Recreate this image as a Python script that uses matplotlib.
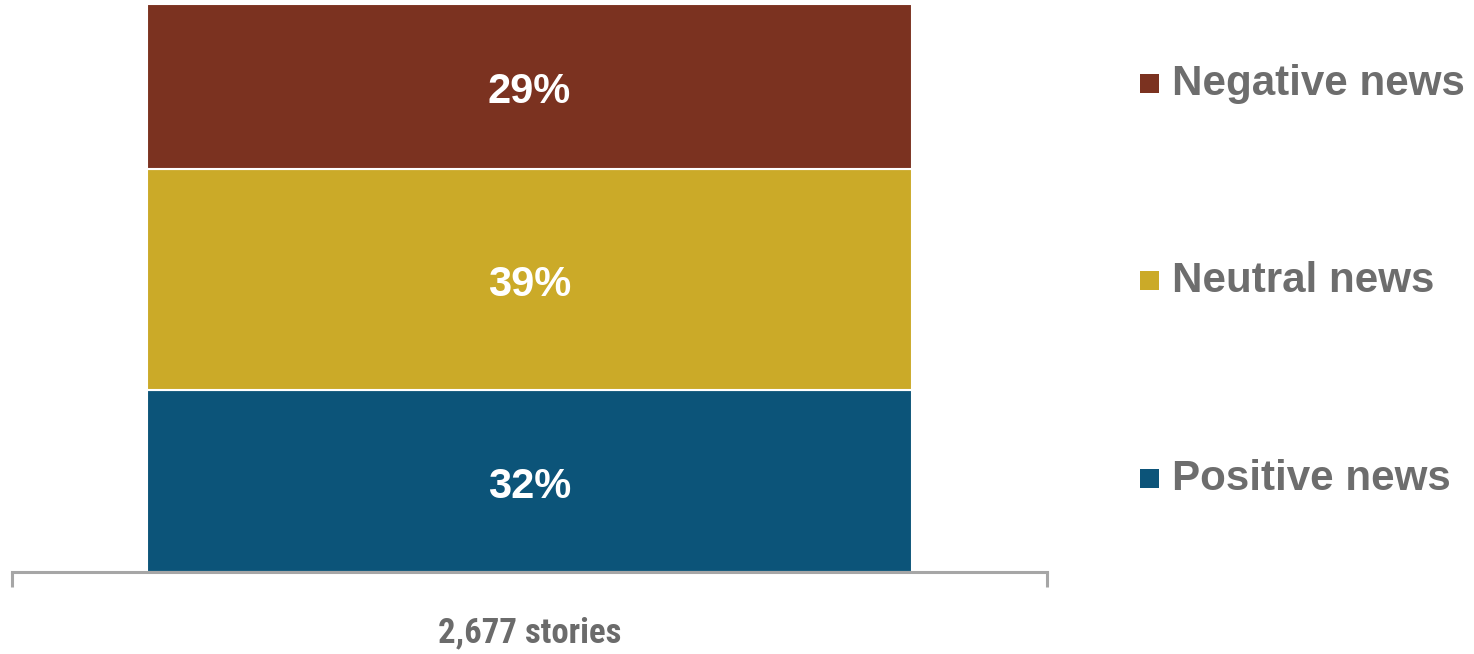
import matplotlib
matplotlib.use("Agg")
import matplotlib.pyplot as plt
from matplotlib.patches import Rectangle

categories = ["2,677 stories"]
series_names = ["Positive news", "Neutral news", "Negative news"]
series_values = [32, 39, 29]
series_colors = ["#0C5479", "#CBAA28", "#7B3220"]

W, H = 1474, 654
fig = plt.figure(figsize=(W / 100, H / 100), dpi=100)
ax = fig.add_axes([12 / W, (H - 572) / H, (1047 - 12) / W, (572 - 4) / H])

bottom = 0
for name, val, col in zip(series_names, series_values, series_colors):
    ax.bar(0, val, bottom=bottom, width=0.739, color=col, edgecolor="white", linewidth=1.5)
    ax.annotate(f"{val}%", (0, bottom + val / 2), xytext=(0, -4), textcoords="offset points",
                ha="center", va="center", color="white",
                fontsize=30, fontweight="bold", family="Liberation Sans")
    bottom += val

ax.set_xlim(-0.5, 0.5)
ax.set_ylim(0, 100)
for s in ["top", "left", "right"]:
    ax.spines[s].set_visible(False)
ax.spines["bottom"].set_color("#A6A6A6")
ax.spines["bottom"].set_linewidth(2.2)
ax.set_yticks([])
ax.set_xticks([])
ax.set_xticks([-0.5, 0.5], minor=True)
ax.tick_params(axis="x", which="minor", length=11, width=2.2, color="#A6A6A6", direction="out")
ax.set_xticklabels([], minor=True)

fig.text(529.5 / W, 1 - 633 / H, categories[0], ha="center", va="center",
         fontsize=25, fontweight="bold", color="#6B6B6B",
         family=["Liberation Sans Narrow", "Roboto Condensed", "Open Sans Condensed",
                 "Liberation Sans"])

# legend (top to bottom: Negative, Neutral, Positive)
leg_y = [83, 280, 478]
for i, (name, col) in enumerate(zip(series_names[::-1], series_colors[::-1])):
    yc = leg_y[i]
    fig.patches.append(Rectangle((1140 / W, 1 - (yc + 10) / H), 19 / W, 19 / H,
                                 transform=fig.transFigure, facecolor=col, edgecolor="none"))
    fig.text(1172 / W, 1 - (yc + 12) / H, name, ha="left", va="baseline",
             fontsize=30.3, fontweight="bold", color="#6D6D6D", family="Liberation Sans")

fig.savefig("out.png", dpi=100)
